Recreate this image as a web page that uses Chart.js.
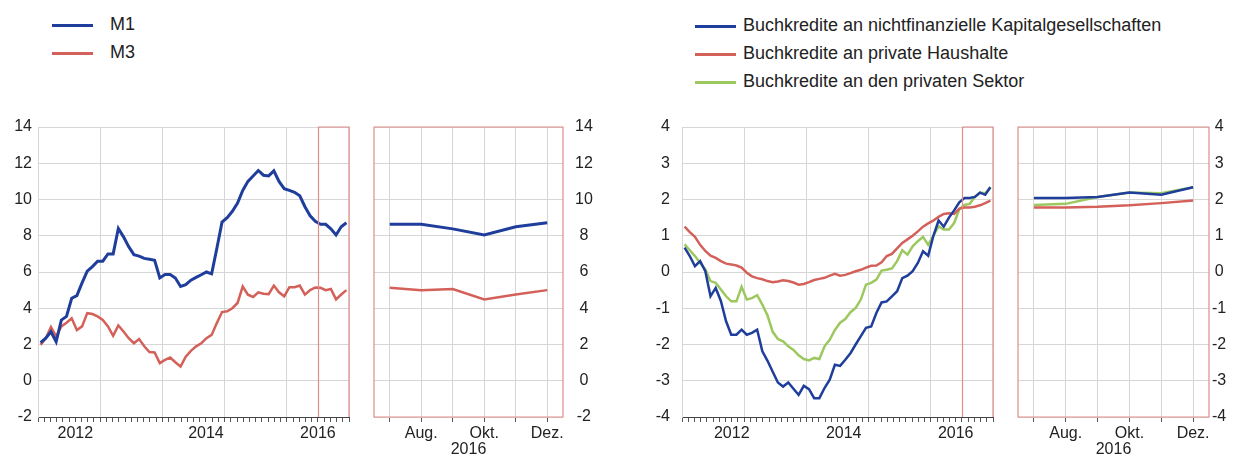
<!DOCTYPE html>
<html>
<head>
<meta charset="utf-8">
<script src="https://cdn.jsdelivr.net/npm/chart.js@4.4.1/dist/chart.umd.min.js"></script>
<style>
  body { margin: 0; background: #fff; font-family: "Liberation Sans", Arial, sans-serif; color: #222; }
  #wrap { position: relative; width: 1236px; height: 459px; overflow: hidden; }
  canvas { position: absolute; }
  .legend { position: absolute; font-size: 18px; }
  .legend div { white-space: nowrap; }
  .legend i { display: inline-block; width: 41px; height: 3px; vertical-align: middle; }
</style>
</head>
<body>
<div id="wrap">
  <div class="legend" id="legLeft" style="left:52px;top:10px"></div>
  <div class="legend" id="legRight" style="left:695px;top:11px"></div>
  <canvas id="c1" width="365" height="359" style="left:0;top:100px"></canvas>
  <canvas id="c2" width="260" height="359" style="left:365px;top:100px"></canvas>
  <canvas id="c3" width="375" height="359" style="left:630px;top:100px"></canvas>
  <canvas id="c4" width="231" height="359" style="left:1005px;top:100px"></canvas>
</div>
<script>
// monthly data, Jan 2012 - Dec 2016
const years = [2012, 2013, 2014, 2015, 2016];
const zoomMonths = ['Juli', 'Aug.', 'Sep.', 'Okt.', 'Nov.', 'Dez.'];
const shownZoomMonths = ['Aug.', 'Okt.', 'Dez.'];
const yearLabels = ['2012', '2014', '2016'];
const yearLabelPosLeft = [2012.6, 2014.7, 2016.5];
const yearLabelPosRight = [2012.8, 2014.6, 2016.4];

const m1 = [2.1, 2.35, 2.7, 2.15, 3.35, 3.55, 4.55, 4.7, 5.4, 6.05,
  6.3, 6.6, 6.6, 7.0, 7.0, 8.4, 7.94, 7.4, 6.96, 6.88,
  6.75, 6.7, 6.65, 5.67, 5.86, 5.86, 5.67, 5.2, 5.3, 5.55,
  5.7, 5.85, 6.0, 5.9, 7.3, 8.75, 9.0, 9.35, 9.8, 10.5,
  11.0, 11.3, 11.6, 11.34, 11.3, 11.58, 11.0, 10.6, 10.5, 10.4,
  10.2, 9.6, 9.1, 8.8, 8.63, 8.63, 8.38, 8.04, 8.5, 8.72];
const m3 = [1.98, 2.35, 2.96, 2.45, 3.0, 3.2, 3.45, 2.8, 3.0, 3.73,
  3.68, 3.55, 3.36, 3.0, 2.48, 3.05, 2.72, 2.35, 2.07, 2.3,
  1.9, 1.58, 1.56, 0.97, 1.15, 1.28, 1.02, 0.78, 1.33, 1.65,
  1.9, 2.07, 2.35, 2.53, 3.18, 3.79, 3.83, 4.0, 4.29, 5.2,
  4.75, 4.62, 4.88, 4.8, 4.78, 5.25, 4.88, 4.66, 5.16, 5.16,
  5.25, 4.75, 5.0, 5.15, 5.13, 5.0, 5.06, 4.49, 4.76, 5.0];

const loansNfc = [0.67, 0.44, 0.16, 0.3, 0.02, -0.67, -0.44, -0.8, -1.36, -1.73,
  -1.73, -1.59, -1.73, -1.68, -1.59, -2.19, -2.45, -2.75, -3.05, -3.16,
  -3.05, -3.22, -3.39, -3.14, -3.23, -3.48, -3.48, -3.2, -2.97, -2.56,
  -2.59, -2.42, -2.24, -2.0, -1.77, -1.54, -1.5, -1.13, -0.84, -0.81,
  -0.67, -0.53, -0.17, -0.1, 0.02, 0.25, 0.57, 0.45, 1.0, 1.42,
  1.25, 1.5, 1.7, 1.92, 2.04, 2.04, 2.07, 2.19, 2.13, 2.34];
const loansHh = [1.25, 1.1, 0.97, 0.75, 0.58, 0.45, 0.39, 0.3, 0.23, 0.21,
  0.18, 0.12, -0.02, -0.12, -0.17, -0.2, -0.25, -0.28, -0.26, -0.23,
  -0.25, -0.29, -0.35, -0.33, -0.28, -0.22, -0.19, -0.16, -0.1, -0.05,
  -0.1, -0.08, -0.03, 0.02, 0.06, 0.12, 0.17, 0.18, 0.27, 0.44,
  0.5, 0.65, 0.8, 0.9, 1.0, 1.12, 1.25, 1.34, 1.42, 1.52,
  1.6, 1.62, 1.6, 1.75, 1.78, 1.78, 1.8, 1.84, 1.9, 1.97];
const loansPriv = [0.76, 0.6, 0.44, 0.25, 0.07, -0.25, -0.3, -0.48, -0.67, -0.81,
  -0.81, -0.41, -0.76, -0.72, -0.64, -0.9, -1.2, -1.65, -1.85, -1.91,
  -2.05, -2.15, -2.3, -2.4, -2.44, -2.37, -2.4, -2.05, -1.87, -1.6,
  -1.4, -1.3, -1.11, -0.99, -0.76, -0.35, -0.3, -0.21, 0.04, 0.06,
  0.1, 0.3, 0.6, 0.48, 0.71, 0.85, 0.97, 0.75, 1.0, 1.26,
  1.17, 1.17, 1.35, 1.73, 1.85, 1.88, 2.07, 2.19, 2.17, 2.34];

const BLUE = '#1f3e9c', RED = '#d4605a', GREEN = '#9cc85f';
const GRID = '#d6d6d6', FRAME = '#e08c88', TEXT = '#222';
const FONT = { family: '"Liberation Sans", Arial, sans-serif', size: 16 };

// x of each observation (mid-month, in years)
const monthX = [];
years.forEach(y => { for (let m = 0; m < 12; m++) monthX.push(y + (m + 0.5) / 12); });

const leftSeries = [
  { label: 'M1', data: m1, color: BLUE, width: 3 },
  { label: 'M3', data: m3, color: RED, width: 2.5 }
];
const rightSeries = [
  { label: 'Buchkredite an nichtfinanzielle Kapitalgesellschaften', data: loansNfc, color: BLUE, width: 2.5 },
  { label: 'Buchkredite an private Haushalte', data: loansHh, color: RED, width: 2.5 },
  { label: 'Buchkredite an den privaten Sektor', data: loansPriv, color: GREEN, width: 2.5 }
];

function legend(id, series) {
  const box = document.getElementById(id);
  series.forEach(s => {
    const row = document.createElement('div');
    row.style.height = '28px'; row.style.lineHeight = '28px';
    const sw = document.createElement('i');
    sw.style.background = s.color;
    sw.style.marginRight = id === 'legLeft' ? '17px' : '7px';
    row.appendChild(sw);
    row.appendChild(document.createTextNode(s.label));
    box.appendChild(row);
  });
}
legend('legLeft', leftSeries);
legend('legRight', rightSeries);

// red box: full frame on the zoom panels, Jul-Dec 2016 window on the main panels
const framePlugin = {
  id: 'frame',
  afterDatasetsDraw(chart, args, opts) {
    const { ctx, chartArea: a } = chart;
    ctx.save();
    ctx.strokeStyle = FRAME;
    ctx.lineWidth = 1.2;
    ctx.beginPath();
    if (opts.from != null) {
      const x0 = Math.round(chart.scales.x.getPixelForValue(opts.from)) + 0.5;
      ctx.moveTo(x0, a.bottom);
      ctx.lineTo(x0, a.top);
      ctx.lineTo(a.right, a.top);
      ctx.lineTo(a.right, a.bottom);
    } else {
      ctx.rect(a.left, a.top, a.right - a.left, a.bottom - a.top);
    }
    ctx.stroke();
    ctx.restore();
  }
};

function lineSets(series, pick) {
  return series.map(s => ({
    label: s.label,
    data: pick(s.data),
    borderColor: s.color,
    backgroundColor: s.color,
    borderWidth: s.width,
    pointRadius: 0,
    tension: 0,
    fill: false
  }));
}

function mainChart(id, series, yRange, yWidth, yPad, padRight, labelPos) {
  const tickVals = [];
  for (let k = 0; k <= 50; k++) tickVals.push(Math.round((2012 + k / 10) * 10) / 10);
  return new Chart(document.getElementById(id), {
    type: 'line',
    data: { datasets: lineSets(series, d => d.map((v, i) => ({ x: monthX[i], y: v }))) },
    options: {
      responsive: false, animation: false,
      layout: { padding: { top: 27, right: padRight, left: 0, bottom: 0 } },
      plugins: { legend: { display: false }, tooltip: { enabled: false }, frame: { from: 2016.5 } },
      scales: {
        x: {
          type: 'linear', min: 2012, max: 2017,
          afterBuildTicks: s => { s.ticks = tickVals.map(v => ({ value: v })); },
          afterFit: s => { s.height = 42; },
          grid: {
            color: c => (c.tick && Math.abs(c.tick.value - Math.round(c.tick.value)) < 1e-6) ? GRID : 'rgba(0,0,0,0)',
            tickColor: '#555', tickLength: 5
          },
          border: { color: '#444' },
          ticks: {
            autoSkip: false, maxRotation: 0, minRotation: 0, padding: 2, color: TEXT, font: FONT,
            callback: v => {
              const k = labelPos.findIndex(p => Math.abs(p - v) < 1e-6);
              return k >= 0 ? yearLabels[k] : '';
            }
          }
        },
        y: {
          min: yRange[0], max: yRange[1],
          afterFit: s => { s.width = yWidth; },
          grid: { color: GRID, drawTicks: false },
          border: { color: GRID },
          ticks: { stepSize: yRange[2], padding: yPad, color: TEXT, font: FONT }
        }
      }
    },
    plugins: [framePlugin]
  });
}

function zoomChart(id, series, yRange, yWidth, yPad, padLeft) {
  return new Chart(document.getElementById(id), {
    type: 'line',
    data: { labels: zoomMonths, datasets: lineSets(series, d => d.slice(-6)) },
    options: {
      responsive: false, animation: false,
      layout: { padding: { top: 27, left: padLeft, right: 0, bottom: 0 } },
      plugins: { legend: { display: false }, tooltip: { enabled: false }, frame: {} },
      scales: {
        x: {
          offset: true,
          afterFit: s => { s.height = 42; },
          grid: { color: GRID, offset: false, tickColor: '#555', tickLength: 5 },
          border: { display: false },
          ticks: {
            maxRotation: 0, autoSkip: false, padding: 2, color: TEXT, font: FONT,
            callback: (v, i) => shownZoomMonths.includes(zoomMonths[i]) ? zoomMonths[i] : ''
          },
          title: { display: true, text: '2016', color: TEXT, font: FONT, padding: { top: 0, bottom: 0 } }
        },
        y: {
          position: 'right',
          min: yRange[0], max: yRange[1],
          afterFit: s => { s.width = yWidth; },
          grid: { color: GRID, drawTicks: false },
          border: { display: false },
          ticks: { stepSize: yRange[2], padding: yPad, crossAlign: 'center', color: TEXT, font: FONT }
        }
      }
    },
    plugins: [framePlugin]
  });
}

mainChart('c1', leftSeries, [-2, 14, 2], 38, 6, 16, yearLabelPosLeft);
zoomChart('c2', leftSeries, [-2, 14, 2], 62, 12, 9);
mainChart('c3', rightSeries, [-4, 4, 1], 52, 12, 12, yearLabelPosRight);
zoomChart('c4', rightSeries, [-4, 4, 1], 27, 3, 13);
</script>
</body>
</html>
